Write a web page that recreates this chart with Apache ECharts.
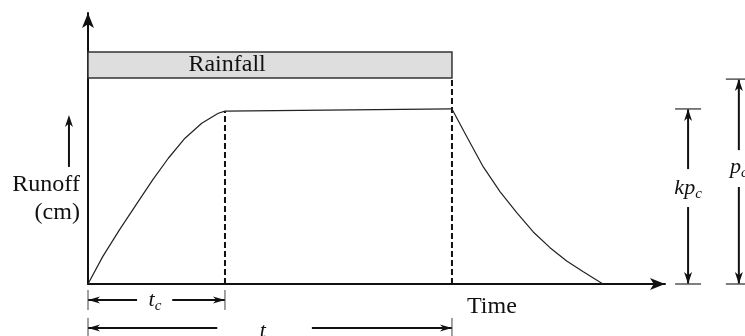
<!DOCTYPE html>
<html><head><meta charset="utf-8">
<script src="https://cdn.jsdelivr.net/npm/echarts@6/dist/echarts.min.js"></script>
<style>html,body{margin:0;padding:0;background:#fff}#c{width:745px;height:336px}</style>
</head><body><div id="c"></div>
<script>
// ---- data (time units 0..100, runoff depth units 0..100) ----
const tc = 23.74;          // time of concentration
const tRain = 63.08;       // rainfall duration
const kpc = 64.6;          // equilibrium runoff level
const pc = 75.6;           // rainfall depth level
const rainTop = 85.6, rainBottom = 76.0;

const riseTime  = [0, 2.55, 5.42, 8.32, 11.21, 13.92, 16.81, 19.71, 22.58, 23.74];
const riseDepth = [0, 10.1, 19.9, 29.2, 38.4, 46.4, 53.8, 59.3, 63.0, 63.8];
const plateauTime  = [23.74, 63.08];
const plateauDepth = [63.8, 64.6];
const recessTime  = [63.08, 65.63, 68.51, 71.40, 74.30, 77.17, 80.07, 82.96, 85.84, 89.25];
const recessDepth = [64.6, 54.4, 43.2, 34.1, 26.3, 19.2, 13.4, 8.5, 4.5, 0];

const dashTime = [tc, tRain];
const dashTop  = [63.8, rainBottom];

const vDimX   = [104, 112.8];
const vDimTop = [kpc, pc];
const vDimGap = [[28.4, 42.4], [35.8, 49.4]];
const vDimMain = ['kp', 'p'];
const vDimSub  = ['c', 'c'];
const vDimLabelY = [35.4, 43.2];

const hDimY   = [-5.9, -16.2];
const hDimEnd = [tc, tRain];
const hDimGap = [[8.5, 14.6], [22.4, 38.8]];
const hDimMain = ['t', 't'];
const hDimSub  = ['c', ''];
const hDimLabelX = [11.6, 30.3];
const hDimLabelYOff = [0, 3];

const textLabels = ['Runoff', '(cm)', 'Time', 'Rainfall'];
const textX = [-1.4, -1.4, 70.0, 24.1];
const textY = [36.5, 26.2, -8.5, 80.8];
const textAlign = ['right', 'right', 'center', 'center'];

const runoffArrowX = -3.3, runoffArrowY0 = 43.2, runoffArrowY1 = 62.4;

// ---- helpers ----
const FAMILY = 'Liberation Serif';
const INK = '#111';
const mctx = document.createElement('canvas').getContext('2d');
function measure(t, size) { mctx.font = 'italic ' + size + 'px "' + FAMILY + '"'; return mctx.measureText(t).width; }

function arrowHead(tip, dir, L, W) {
  const dx = dir[0], dy = dir[1], nx = -dy, ny = dx;
  const bx = tip[0] - dx * L, by = tip[1] - dy * L;
  return { type: 'polygon', shape: { points: [
    tip, [bx + nx * W, by + ny * W], [tip[0] - dx * L * 0.72, tip[1] - dy * L * 0.72], [bx - nx * W, by - ny * W]
  ] }, style: { fill: INK } };
}
function seg(a, b, w, color, dash) {
  return { type: 'line', shape: { x1: a[0], y1: a[1], x2: b[0], y2: b[1] },
    style: { stroke: color || INK, lineWidth: w || 2, lineDash: dash || null } };
}
function txt(text, x, y, size, italic, align) {
  return { type: 'text', style: { text, x, y, fontFamily: FAMILY, fontSize: size,
    fontStyle: italic ? 'italic' : 'normal', fill: INK, align: align || 'left', verticalAlign: 'middle' } };
}
function subLabel(cx, cy, main, sub) {
  const wm = measure(main, 22), ws = sub ? measure(sub, 15) : 0;
  const x0 = cx - (wm + ws) / 2;
  const els = [txt(main, x0, cy, 22, true)];
  if (sub) els.push(txt(sub, x0 + wm, cy + 6, 15, true));
  return els;
}

const axisCommon = {
  type: 'value', min: 0, max: 100,
  axisTick: { show: false }, axisLabel: { show: false }, splitLine: { show: false },
  axisLine: { show: true, symbol: ['none', 'arrow'], symbolSize: [9, 15], symbolOffset: [0, 0],
    lineStyle: { color: INK, width: 2 } }
};

const lineStyle = { color: '#222', width: 1.2 };

const option = {
  animation: false,
  grid: { left: 88, right: 80, top: 13, bottom: 52 },
  xAxis: axisCommon,
  yAxis: axisCommon,
  series: [
    { type: 'custom', clip: false, z: 1,
      data: [[0, rainTop, tRain, rainBottom]],
      renderItem(params, api) {
        const a = api.coord([api.value(0), api.value(1)]), b = api.coord([api.value(2), api.value(3)]);
        return { type: 'rect', shape: { x: a[0], y: a[1], width: b[0] - a[0], height: b[1] - a[1] },
          style: { fill: '#dedede', stroke: '#333', lineWidth: 1.5 } };
      } },
    { type: 'line', data: riseTime.map((t, i) => [t, riseDepth[i]]), smooth: false, symbol: 'none', lineStyle, z: 3 },
    { type: 'line', data: plateauTime.map((t, i) => [t, plateauDepth[i]]), symbol: 'none', lineStyle, z: 3 },
    { type: 'line', data: recessTime.map((t, i) => [t, recessDepth[i]]), smooth: false, symbol: 'none', lineStyle, z: 3 },
    { type: 'custom', clip: false, z: 2,
      data: dashTime.map((t, i) => [t, dashTop[i]]),
      renderItem(params, api) {
        const a = api.coord([api.value(0), 0]), b = api.coord([api.value(0), api.value(1)]);
        return seg(a, b, 2, INK, [6, 3]);
      } },
    { type: 'custom', clip: false, z: 4,
      data: vDimX.map((x, i) => [x, vDimTop[i], vDimGap[i][0], vDimGap[i][1], vDimLabelY[i]]),
      renderItem(params, api) {
        const i = params.dataIndex, x = api.value(0);
        const pB = api.coord([x, 0]), pT = api.coord([x, api.value(1)]);
        const gL = api.coord([x, api.value(2)]), gH = api.coord([x, api.value(3)]);
        const lab = api.coord([x, api.value(4)]);
        const ch = [
          seg(pB, gL, 2), seg(gH, pT, 2),
          arrowHead(pT, [0, -1], 12, 4), arrowHead(pB, [0, 1], 12, 4),
          seg([pT[0] - 13, pT[1]], [pT[0] + 13, pT[1]], 1.5, '#555'),
          seg([pB[0] - 13, pB[1]], [pB[0] + 13, pB[1]], 1.5, '#555')
        ].concat(subLabel(lab[0], lab[1], vDimMain[i], vDimSub[i]));
        return { type: 'group', children: ch };
      } },
    { type: 'custom', clip: false, z: 4,
      data: hDimY.map((y, i) => [y, hDimEnd[i], hDimGap[i][0], hDimGap[i][1], hDimLabelX[i]]),
      renderItem(params, api) {
        const i = params.dataIndex, y = api.value(0);
        const pL = api.coord([0, y]), pR = api.coord([api.value(1), y]);
        const gL = api.coord([api.value(2), y]), gH = api.coord([api.value(3), y]);
        const lab = api.coord([api.value(4), y]);
        const ch = [
          seg(pL, gL, 2), seg(gH, pR, 2),
          arrowHead(pL, [-1, 0], 12, 3.5), arrowHead(pR, [1, 0], 12, 3.5),
          seg([pL[0], pL[1] - 10], [pL[0], pL[1] + 10], 1, '#444'),
          seg([pR[0], pR[1] - 10], [pR[0], pR[1] + 10], 1, '#444')
        ].concat(subLabel(lab[0], lab[1] + hDimLabelYOff[i], hDimMain[i], hDimSub[i]));
        return { type: 'group', children: ch };
      } },
    { type: 'custom', clip: false, z: 4,
      data: [[runoffArrowX, runoffArrowY0, runoffArrowY1]],
      renderItem(params, api) {
        const a = api.coord([api.value(0), api.value(1)]), b = api.coord([api.value(0), api.value(2)]);
        return { type: 'group', children: [seg(a, [b[0], b[1] + 6], 2), arrowHead(b, [0, -1], 12, 4)] };
      } },
    { type: 'custom', clip: false, z: 5,
      data: textX.map((x, i) => [x, textY[i]]),
      renderItem(params, api) {
        const i = params.dataIndex, p = api.coord([api.value(0), api.value(1)]);
        return txt(textLabels[i], p[0], p[1], 24, false, textAlign[i]);
      } }
  ]
};
const chart = echarts.init(document.getElementById('c'), null, { renderer: 'canvas' });
chart.setOption(option);
</script></body></html>
